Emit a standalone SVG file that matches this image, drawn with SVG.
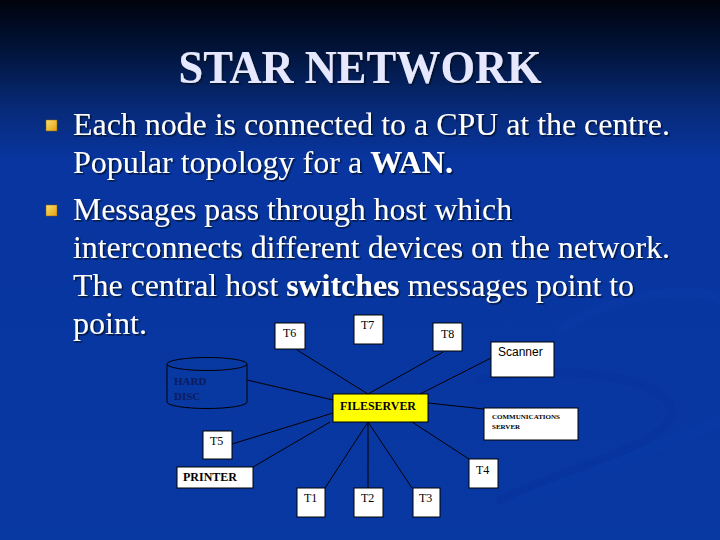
<svg xmlns="http://www.w3.org/2000/svg" width="720" height="540" viewBox="0 0 720 540">
<defs>
<linearGradient id="bg" x1="0" y1="0" x2="0" y2="1">
<stop offset="0" stop-color="#00030c"/>
<stop offset="0.09" stop-color="#011338"/>
<stop offset="0.2" stop-color="#072a78"/>
<stop offset="0.3" stop-color="#0835a0"/>
<stop offset="1" stop-color="#0838a2"/>
</linearGradient>
<linearGradient id="bul" x1="0" y1="0" x2="1" y2="1">
<stop offset="0" stop-color="#ffe070"/>
<stop offset="1" stop-color="#e0a010"/>
</linearGradient>
<filter id="sh" x="-5%" y="-20%" width="110%" height="140%">
<feDropShadow dx="1.5" dy="1.5" stdDeviation="0.6" flood-color="#000820" flood-opacity="0.8"/>
</filter>
<style>
.title{font-family:"Liberation Serif","Times New Roman",serif;font-weight:bold;font-size:46px;fill:#e6e8ff}
.body{font-family:"Liberation Serif","Times New Roman",serif;font-size:31px;fill:#ffffff}
.b{font-weight:bold}
.box{fill:#ffffff;stroke:#000000;stroke-width:1}
.lbl{font-family:"Liberation Serif","Times New Roman",serif;font-size:12px;fill:#000000}
.bl{font-family:"Liberation Serif","Times New Roman",serif;font-size:12px;font-weight:bold;fill:#000000}
.conn line{stroke:#000000;stroke-width:1}
</style>
</defs>
<rect x="0" y="0" width="720" height="540" fill="url(#bg)"/>
<g fill="none" stroke-linecap="round">
<path d="M560 330 C620 290 700 285 720 300" stroke="#0a3cb0" stroke-width="10" opacity="0.25"/>
<path d="M480 380 C560 360 690 380 670 420 C650 450 560 470 500 500" stroke="#06309a" stroke-width="8" opacity="0.3"/>
<path d="M520 500 C600 470 680 440 720 420" stroke="#0a3db0" stroke-width="12" opacity="0.2"/>
</g>
<text class="title" x="360" y="83" text-anchor="middle" textLength="363" lengthAdjust="spacingAndGlyphs" filter="url(#sh)">STAR NETWORK</text>
<rect x="46" y="120" width="11" height="11" fill="url(#bul)" stroke="#806010" stroke-width="0.5"/>
<rect x="46" y="205" width="11" height="11" fill="url(#bul)" stroke="#806010" stroke-width="0.5"/>
<g filter="url(#sh)">
<text class="body" x="73" y="135" textLength="597" lengthAdjust="spacingAndGlyphs">Each node is connected to a CPU at the centre.</text>
<text class="body" x="73" y="173" textLength="380" lengthAdjust="spacingAndGlyphs">Popular topology for a <tspan class="b">WAN.</tspan></text>
<text class="body" x="73" y="220" textLength="439" lengthAdjust="spacingAndGlyphs">Messages pass through host which</text>
<text class="body" x="73" y="258" textLength="597" lengthAdjust="spacingAndGlyphs">interconnects different devices on the network.</text>
<text class="body" x="73" y="296" textLength="561" lengthAdjust="spacingAndGlyphs">The central host <tspan class="b">switches</tspan> messages point to</text>
<text class="body" x="73" y="334" textLength="74" lengthAdjust="spacingAndGlyphs">point.</text>
</g>
<g class="conn">
<line x1="297" y1="350" x2="368" y2="394"/>
<line x1="443" y1="352" x2="368" y2="394"/>
<line x1="493" y1="357" x2="420" y2="394"/>
<line x1="247" y1="380" x2="333" y2="400"/>
<line x1="428" y1="403" x2="484" y2="409"/>
<line x1="333" y1="413" x2="232" y2="444"/>
<line x1="330" y1="422" x2="253" y2="467"/>
<line x1="368" y1="422" x2="325" y2="488"/>
<line x1="368" y1="422" x2="368" y2="488"/>
<line x1="368" y1="422" x2="412" y2="488"/>
<line x1="412" y1="422" x2="469" y2="459"/>
</g>
<g id="T6"><rect class="box" x="275" y="323" width="30" height="26"/><text class="lbl" x="283" y="337">T6</text></g>
<g id="T7"><rect class="box" x="354" y="315" width="29" height="29"/><text class="lbl" x="361" y="329">T7</text></g>
<g id="T8"><rect class="box" x="433" y="323" width="29" height="28"/><text class="lbl" x="441" y="338">T8</text></g>
<g id="scanner"><rect class="box" x="491" y="342" width="63" height="35"/><text x="498" y="356" font-family="'Liberation Sans',Arial,sans-serif" font-size="12" fill="#000">Scanner</text></g>
<g id="harddisc">
<path d="M167 364 L167 402 A40 6.5 0 0 0 247 402 L247 364" fill="#0838a2" stroke="#000" stroke-width="1"/>
<ellipse cx="207" cy="364" rx="40" ry="6.5" fill="#0838a2" stroke="#000" stroke-width="1"/>
<text x="174" y="385" font-family="'Liberation Serif','Times New Roman',serif" font-size="11" font-weight="bold" fill="#0b1c5e">HARD</text>
<text x="174" y="400" font-family="'Liberation Serif','Times New Roman',serif" font-size="11" font-weight="bold" fill="#0b1c5e">DISC</text>
</g>
<g id="fileserver"><rect x="333" y="394" width="95" height="28" fill="#ffff00" stroke="#000" stroke-width="1"/><text class="bl" x="340" y="410" textLength="76" lengthAdjust="spacingAndGlyphs">FILESERVER</text></g>
<g id="commserver"><rect class="box" x="484" y="408" width="94" height="32"/>
<text x="492" y="419" font-family="'Liberation Serif','Times New Roman',serif" font-size="7" font-weight="bold" fill="#000" textLength="68" lengthAdjust="spacingAndGlyphs">COMMUNICATIONS</text>
<text x="492" y="429" font-family="'Liberation Serif','Times New Roman',serif" font-size="7" font-weight="bold" fill="#000">SERVER</text></g>
<g id="T5"><rect class="box" x="203" y="431" width="29" height="28"/><text class="lbl" x="210" y="445">T5</text></g>
<g id="printer"><rect class="box" x="177" y="467" width="76" height="21"/><text class="bl" x="183" y="481">PRINTER</text></g>
<g id="T4"><rect class="box" x="469" y="459" width="29" height="29"/><text class="lbl" x="476" y="474">T4</text></g>
<g id="T1"><rect class="box" x="297" y="488" width="28" height="29"/><text class="lbl" x="304" y="502">T1</text></g>
<g id="T2"><rect class="box" x="354" y="488" width="29" height="29"/><text class="lbl" x="361" y="502">T2</text></g>
<g id="T3"><rect class="box" x="413" y="488" width="27" height="29"/><text class="lbl" x="419" y="502">T3</text></g>
</svg>
